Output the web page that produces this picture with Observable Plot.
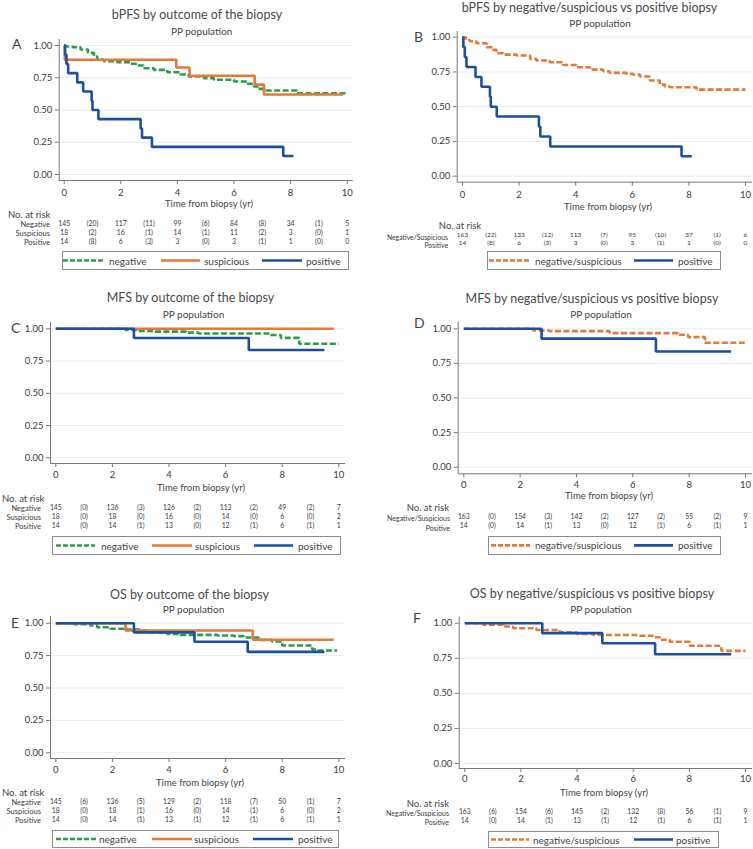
<!DOCTYPE html>
<html><head><meta charset="utf-8">
<script src="https://cdn.jsdelivr.net/npm/d3@7"></script>
<script src="https://cdn.jsdelivr.net/npm/@observablehq/plot@0.6"></script>
<style>
body{margin:0;background:#fff;}
#page{position:relative;width:753px;height:849px;overflow:hidden;font-family:Lato,"Noto Sans",sans-serif;color:#222;background:#fff;}
.lbl{position:absolute;white-space:nowrap;line-height:1;font-weight:400;}
</style></head><body><div id="page"></div><script>
// ---------- DATA ----------
const riskTimes = [0,1,2,3,4,5,6,7,8,9,10];
const xTicks = [0,2,4,6,8,10];
const yTicks = [0,0.25,0.5,0.75,1];

// Panel A: bPFS by outcome
const bpfsNegT = [0,0.05,0.3,0.58,0.84,1.05,1.17,1.4,1.87,2.34,2.58,2.8,3.17,3.64,4.11,4.4,4.94,5.29,6.0,6.47,6.7,6.88,7.06,8.23,10.0];
const bpfsNegS = [1,0.992,0.987,0.969,0.943,0.915,0.889,0.879,0.871,0.858,0.845,0.824,0.811,0.793,0.775,0.76,0.747,0.734,0.721,0.703,0.682,0.664,0.651,0.63,0.63];
const bpfsSusT = [0,0.02,3.96,4.43,6.73,7.06,9.86];
const bpfsSusS = [1,0.889,0.83,0.766,0.697,0.62,0.62];
const bpfsPosT = [0,0.03,0.08,0.14,0.46,0.67,0.97,1.0,1.21,2.7,2.75,3.1,7.74,8.1];
const bpfsPosS = [1,0.929,0.857,0.786,0.714,0.643,0.571,0.5,0.429,0.357,0.286,0.214,0.143,0.143];
// Panel B: bPFS negative/suspicious vs positive
const bpfsNsT = [0,0.12,0.26,0.49,0.85,1.08,1.2,1.44,1.91,2.39,2.61,3.08,3.56,4.03,4.5,4.97,5.2,5.8,6.03,6.27,6.62,6.97,7.15,7.33,8.27,10.0];
const bpfsNsS = [1,0.98,0.971,0.957,0.928,0.909,0.885,0.875,0.868,0.844,0.832,0.82,0.8,0.784,0.767,0.755,0.743,0.736,0.731,0.717,0.688,0.659,0.645,0.64,0.623,0.623];
// Panel C: MFS by outcome
const mfsNegT = [0,2.45,2.85,3.4,4.6,5.05,7.6,7.95,8.6,10.0];
const mfsNegS = [1,0.992,0.984,0.978,0.97,0.963,0.952,0.93,0.884,0.884];
const mfsSusT = [0,9.82];
const mfsSusS = [1,1];
const mfsPosT = [0,2.76,6.82,9.49];
const mfsPosS = [1,0.929,0.836,0.836];
// Panel D: MFS negative/suspicious vs positive
const mfsNsT = [0,2.46,3.05,5.18,7.6,7.96,8.56,10.0];
const mfsNsS = [1,0.988,0.983,0.969,0.957,0.94,0.899,0.899];
// Panel E: OS by outcome
const osNegT = [0,0.64,1.22,1.46,1.93,2.52,3.0,3.2,3.93,4.4,5.7,6.29,6.64,7.17,7.64,8.0,9.06,9.2,9.94];
const osNegS = [1,0.993,0.982,0.969,0.957,0.951,0.944,0.93,0.918,0.91,0.905,0.9,0.89,0.871,0.859,0.828,0.797,0.789,0.789];
const osSusT = [0,2.46,6.96,9.82];
const osSusS = [1,0.944,0.872,0.872];
const osPosT = [0,2.76,4.9,6.78,9.49];
const osPosS = [1,0.929,0.857,0.779,0.779];
// Panel F: OS negative/suspicious vs positive
const osNsT = [0,0.65,1.37,1.72,2.55,3.38,3.98,4.57,6.12,6.71,6.95,7.3,8.02,9.14,10.0];
const osNsS = [1,0.99,0.976,0.964,0.952,0.935,0.923,0.916,0.911,0.9,0.882,0.868,0.839,0.803,0.803];

// Numbers at risk (columns at riskTimes)
const riskA_neg = ["145","(20)","117","(11)","99","(6)","84","(8)","34","(1)","5"];
const riskA_sus = ["18","(2)","16","(1)","14","(1)","11","(2)","3","(0)","1"];
const riskA_pos = ["14","(8)","6","(3)","3","(0)","3","(1)","1","(0)","0"];
const riskB_ns  = ["163","(22)","133","(12)","113","(7)","95","(10)","37","(1)","6"];
const riskB_pos = ["14","(8)","6","(3)","3","(0)","3","(1)","1","(0)","0"];
const riskC_neg = ["145","(0)","136","(3)","126","(2)","113","(2)","49","(2)","7"];
const riskC_sus = ["18","(0)","18","(0)","16","(0)","14","(0)","6","(0)","2"];
const riskC_pos = ["14","(0)","14","(1)","13","(0)","12","(1)","6","(1)","1"];
const riskD_ns  = ["163","(0)","154","(3)","142","(2)","127","(2)","55","(2)","9"];
const riskD_pos = ["14","(0)","14","(1)","13","(0)","12","(1)","6","(1)","1"];
const riskE_neg = ["145","(6)","136","(5)","129","(2)","118","(7)","50","(1)","7"];
const riskE_sus = ["18","(0)","18","(1)","16","(0)","14","(1)","6","(0)","2"];
const riskE_pos = ["14","(0)","14","(1)","13","(1)","12","(1)","6","(1)","1"];
const riskF_ns  = ["163","(6)","154","(6)","145","(2)","132","(8)","56","(1)","9"];
const riskF_pos = ["14","(0)","14","(1)","13","(1)","12","(1)","6","(1)","1"];

const legend3 = ["negative","suspicious","positive"];
const legend2 = ["negative/suspicious","positive"];
const rowLabels3 = ["Negative","Suspicious","Positive"];
const rowLabels2 = ["Negative/Suspicious","Positive"];
const titles = {
  A:"bPFS by outcome of the biopsy", B:"bPFS by negative/suspicious vs positive biopsy",
  C:"MFS by outcome of the biopsy", D:"MFS by negative/suspicious vs positive biopsy",
  E:"OS by outcome of the biopsy", F:"OS by negative/suspicious vs positive biopsy"};
const subtitle = "PP population";
const xLabel = "Time from biopsy (yr)";
const riskTitle = "No. at risk";

// ---------- STYLES ----------
const styles = {
  neg:{stroke:"#2a9d4a", dash:"6,2.5"},
  sus:{stroke:"#e27a3a", dash:null},
  ns:{stroke:"#e27a3a", dash:"6,2.5"},
  pos:{stroke:"#1c4f9c", dash:null}
};
const W = 753, H = 849;

const panels = [
 {key:"A", curves:[[bpfsNegT,bpfsNegS,"neg"],[bpfsSusT,bpfsSusS,"sus"],[bpfsPosT,bpfsPosS,"pos"]],
  rows:[riskA_neg,riskA_sus,riskA_pos], rowLabels:rowLabels3, legendNames:legend3, legendKeys:["neg","sus","pos"],
  g:{fl:58.7,fr:352.7,ft:39,fb:180,x0:63.7,x10:346.7,y1:45,y0:174,tickY:192.5,axLab:[209,204],nar:[8,215,"left"],rowR:50,rowsY:[225,234,243],rowFs:7.5,numFs:6.8,
     box:[62,251,349,270],items:[[63,105,109],[161,200,204],[262,302,306]],title:[197,15],sub:[201.7,31],letter:[12,44]}},
 {key:"B", curves:[[bpfsNsT,bpfsNsS,"ns"],[bpfsPosT,bpfsPosS,"pos"]],
  rows:[riskB_ns,riskB_pos], rowLabels:rowLabels2, legendNames:legend2, legendKeys:["ns","pos"],
  g:{fl:456.7,fr:752,ft:31,fb:181.7,x0:462,x10:745,y1:36.7,y0:175.7,tickY:194.5,axLab:[608,207],nar:[460,226,"center"],rowR:448,rowsY:[236.5,244.5],rowFs:6.8,numFs:6.5,
     box:[487,251,721,270],items:[[489,529,535],[634,673,678]],title:[589.5,8],sub:[600,23],letter:[414,37]}},
 {key:"C", curves:[[mfsNegT,mfsNegS,"neg"],[mfsSusT,mfsSusS,"sus"],[mfsPosT,mfsPosS,"pos"]],
  rows:[riskC_neg,riskC_sus,riskC_pos], rowLabels:rowLabels3, legendNames:legend3, legendKeys:["neg","sus","pos"],
  g:{fl:50,fr:345,ft:322,fb:463,x0:55.3,x10:338.3,y1:328.3,y0:457.3,tickY:474.5,axLab:[201,487.5],nar:[2,499,"left"],rowR:41,rowsY:[509,518,527],rowFs:7.5,numFs:6.8,
     box:[52,536,341,555],items:[[56,95,101],[152,192,195],[254,293,298]],title:[190.5,298],sub:[193.5,314],letter:[11,328]}},
 {key:"D", curves:[[mfsNsT,mfsNsS,"ns"],[mfsPosT,mfsPosS,"pos"]],
  rows:[riskD_ns,riskD_pos], rowLabels:rowLabels2, legendNames:legend2, legendKeys:["ns","pos"],
  g:{fl:457.7,fr:752,ft:321.7,fb:473.3,x0:463.3,x10:745,y1:328.3,y0:466.7,tickY:484.5,axLab:[609,495.5],nar:[449,508.3,"right"],rowR:450,rowsY:[518.3,527.7],rowFs:7,numFs:6.8,
     box:[487.7,535.7,721,555],items:[[491,530,535],[634,673,678]],title:[592,299],sub:[601,314],letter:[414,323]}},
 {key:"E", curves:[[osNegT,osNegS,"neg"],[osSusT,osSusS,"sus"],[osPosT,osPosS,"pos"]],
  rows:[riskE_neg,riskE_sus,riskE_pos], rowLabels:rowLabels3, legendNames:legend3, legendKeys:["neg","sus","pos"],
  g:{fl:50,fr:345,ft:616,fb:758,x0:55.3,x10:338.3,y1:622.7,y0:752.3,tickY:769.5,axLab:[200,783],nar:[2,793,"left"],rowR:41,rowsY:[803,812,821],rowFs:7.5,numFs:6.8,
     box:[52,830,339,848],items:[[56,96,99],[152,192,194],[253,293,298]],title:[189.5,595],sub:[193.5,609],letter:[11,623]}},
 {key:"F", curves:[[osNsT,osNsS,"ns"],[osPosT,osPosS,"pos"]],
  rows:[riskF_ns,riskF_pos], rowLabels:rowLabels2, legendNames:legend2, legendKeys:["ns","pos"],
  g:{fl:458.7,fr:752,ft:616.7,fb:768,x0:464.3,x10:745,y1:622.7,y0:763,tickY:778,axLab:[604,793],nar:[449,804,"right"],rowR:449,rowsY:[813,822],rowFs:7,numFs:6.8,
     box:[488,831,719,848],items:[[491,529,533],[634,673,676]],title:[592,594],sub:[601,609],letter:[413,618]}}
];

const page = document.getElementById("page");
function addText(txt, x, y, fs, anchor, extra) {
  const d = document.createElement("div");
  d.className = "lbl";
  d.textContent = txt;
  const tx = anchor === "center" ? "-50%" : anchor === "right" ? "-100%" : "0";
  d.style.cssText += `left:${x}px;top:${y}px;font-size:${fs}px;transform:translate(${tx},-50%);` + (extra||"");
  page.appendChild(d);
  return d;
}

for (const p of panels) {
  const g = p.g;
  const xd = [(g.fl - g.x0) / (g.x10 - g.x0) * 10, (g.fr - g.x0) / (g.x10 - g.x0) * 10];
  const yd = [(g.y0 - g.fb) / (g.y0 - g.y1), (g.y0 - g.ft) / (g.y0 - g.y1)];
  const marks = [
    Plot.gridY(yTicks, {stroke:"#e4eef0", strokeOpacity:1, strokeWidth:1}),
    Plot.ruleX([xd[0]], {stroke:"#777", strokeWidth:1}),
    Plot.ruleY([yd[0]], {stroke:"#777", strokeWidth:1}),
    Plot.axisY(yTicks, {tickSize:4, tickPadding:3, tickFormat:d3.format(".2f"), fontSize:9.5, label:null, stroke:"#777", fill:"#3a3a3a"}),
    Plot.axisX(xTicks, {tickSize:4, tickPadding: g.tickY - 3.4 - g.fb - 4, fontSize:9.5, label:null, stroke:"#777", fill:"#3a3a3a"})
  ];
  for (const [T, S, k] of p.curves) {
    const data = T.map((t, i) => ({t, s: S[i]}));
    marks.push(Plot.line(data, {x:"t", y:"s", curve:"step-after", stroke:styles[k].stroke, strokeWidth:2.6,
      strokeDasharray: styles[k].dash || undefined, strokeLinejoin:"miter", strokeLinecap:"butt"}));
  }
  p.rows.forEach((row, i) => {
    const data = riskTimes.map((t, j) => ({t, v: row[j]}));
    marks.push(Plot.text(data, {x:"t", text:"v", frameAnchor:"bottom", dy: g.rowsY[i] - g.fb, fontSize:g.numFs, fill:"#3a3a3a"}));
  });
  const svg = Plot.plot({
    width: W, height: H,
    marginLeft: g.fl, marginRight: W - g.fr, marginTop: g.ft, marginBottom: H - g.fb,
    x: {domain: xd}, y: {domain: yd},
    style: {background:"transparent", fontFamily:"Lato, 'Noto Sans', sans-serif", position:"absolute", left:"0px", top:"0px", overflow:"visible"},
    marks
  });
  svg.style.position = "absolute"; svg.style.left = "0px"; svg.style.top = "0px";
  page.appendChild(svg);

  // HTML texts
  addText(titles[p.key], g.title[0], g.title[1], 12.5, "center", "color:#4a4a4a;");
  addText(subtitle, g.sub[0], g.sub[1], 10, "center", "color:#444;");
  addText(p.key, g.letter[0], g.letter[1], 14, "left", "color:#444;");
  addText(xLabel, g.axLab[0], g.axLab[1], 9.5, "center", "color:#444;");
  addText(riskTitle, g.nar[0], g.nar[1], 9.5, g.nar[2], "color:#444;");
  p.rowLabels.forEach((lab, i) => addText(lab, g.rowR, g.rowsY[i], g.rowFs, "right", "color:#3a3a3a;"));

  // legend
  const [bx1, by1, bx2, by2] = g.box;
  const box = document.createElement("div");
  box.style.cssText = `position:absolute;left:${bx1}px;top:${by1}px;width:${bx2-bx1}px;height:${by2-by1}px;border:1px solid #8c8c8c;box-sizing:border-box;`;
  page.appendChild(box);
  const ls = d3.create("svg").attr("width", W).attr("height", H)
    .style("position","absolute").style("left","0px").style("top","0px").style("pointer-events","none");
  const cy = (by1 + by2) / 2;
  p.legendKeys.forEach((k, i) => {
    const [sx1, sx2, tx] = g.items[i];
    ls.append("line").attr("x1", sx1).attr("x2", sx2).attr("y1", cy).attr("y2", cy)
      .attr("stroke", styles[k].stroke).attr("stroke-width", 2.6)
      .attr("stroke-dasharray", styles[k].dash ? "5,2" : null);
    addText(p.legendNames[i], tx, cy, 10, "left", "color:#444;");
  });
  page.appendChild(ls.node());
}
</script></body></html>
